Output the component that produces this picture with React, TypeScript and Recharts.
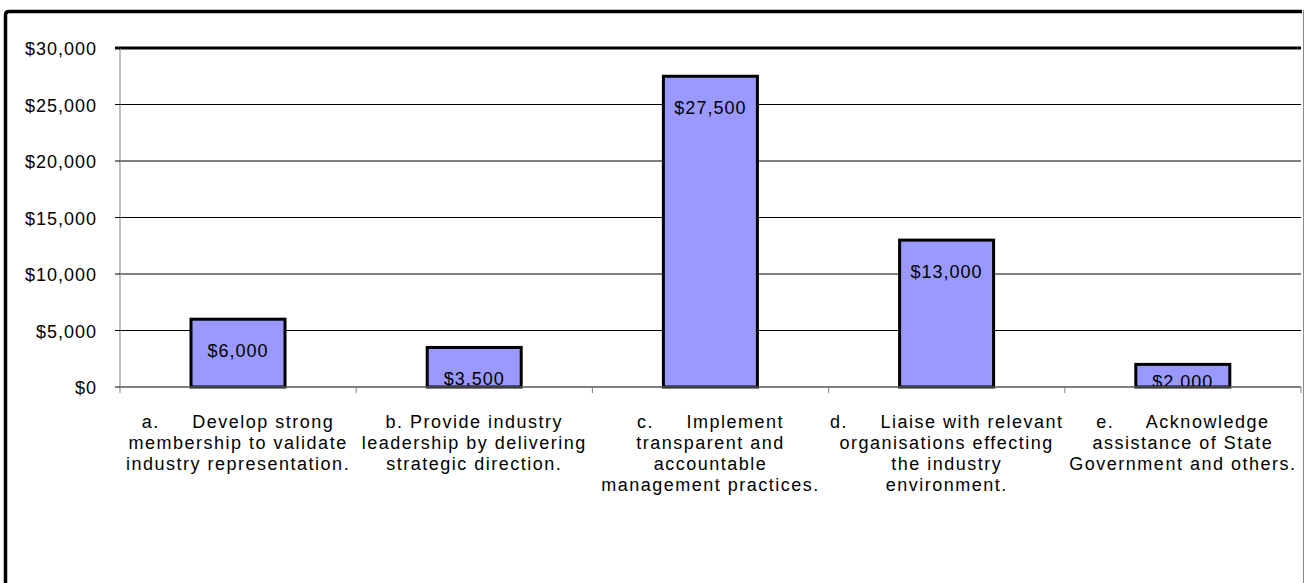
import { Bar, BarChart, CartesianGrid, ReferenceLine, XAxis, YAxis } from 'recharts';

const categories = ['a', 'b', 'c', 'd', 'e'];
const categoryLines = [
    ['a.     Develop strong', 'membership to validate', 'industry representation.'],
    ['b. Provide industry', 'leadership by delivering', 'strategic direction.'],
    ['c.     Implement', 'transparent and', 'accountable', 'management practices.'],
    ['d.     Liaise with relevant', 'organisations effecting', 'the industry', 'environment.'],
    ['e.     Acknowledge', 'assistance of State', 'Government and others.'],
];
const amounts = [6000, 3500, 27500, 13000, 2000];
const yTicks = [0, 5000, 10000, 15000, 20000, 25000, 30000];

const data = categories.map((c, i) => ({ category: c, value: amounts[i] }));

const FONT = '"Liberation Sans", Arial, sans-serif';
const money = (v: number) => `$${v.toLocaleString('en-US')}`;

const PLOT_LEFT = 120;
const PLOT_RIGHT = 1301;
const BAND = (PLOT_RIGHT - PLOT_LEFT) / categories.length;
const Y_MAX = 30000;

function CategoryTick(props: any) {
    const { x, y, payload, index } = props;
    const lines = categoryLines[index] ?? [];
    const top = y - 8;
    return (
        <g>
            <line x1={x - BAND / 2} x2={x - BAND / 2} y1={top} y2={top + 6} stroke="#808080" />
            {index === categories.length - 1 && (
                <line x1={x + BAND / 2} x2={x + BAND / 2} y1={top} y2={top + 6} stroke="#808080" />
            )}
            <text
                x={x}
                y={top + 41}
                textAnchor="middle"
                fontFamily={FONT}
                fontSize={18}
                letterSpacing={1.5}
                fill="#000"
                style={{ whiteSpace: 'pre' }}
                data-cat={payload.value}
            >
                {lines.map((l, i) => (
                    <tspan key={i} x={x} y={top + 41 + i * 21}>
                        {l}
                    </tspan>
                ))}
            </text>
        </g>
    );
}

function ValueTick(props: any) {
    const { x, y, payload } = props;
    const isTop = payload.value === Y_MAX;
    return (
        <g>
            <line
                x1={PLOT_LEFT - 5}
                x2={PLOT_LEFT}
                y1={y}
                y2={y}
                stroke="#000"
                strokeWidth={isTop ? 3 : 1}
            />
            <text
                x={x}
                y={y + 7}
                textAnchor="end"
                fontFamily={FONT}
                fontSize={18}
                letterSpacing={1}
                fill="#000"
            >
                {money(payload.value)}
            </text>
        </g>
    );
}

function BarShape(props: any) {
    const { x, y, width, height, index, payload } = props;
    const id = `bar-clip-${index}`;
    const baseline = Math.min(y + 38, y + height + 1);
    return (
        <g>
            <defs>
                <clipPath id={id}>
                    <rect x={x} y={y} width={width} height={height} />
                </clipPath>
            </defs>
            <rect x={x} y={y} width={width} height={height} fill="#9999FF" />
            <text
                x={x + width / 2}
                y={baseline}
                textAnchor="middle"
                fontFamily={FONT}
                fontSize={18}
                letterSpacing={1}
                fill="#000"
                clipPath={`url(#${id})`}
            >
                {money(payload.value)}
            </text>
            <rect
                x={x}
                y={y}
                width={width}
                height={height}
                fill="none"
                stroke="#000"
                strokeWidth={3}
            />
        </g>
    );
}

export default function App() {
    return (
        <div
            style={{
                position: 'fixed',
                left: 0,
                top: 0,
                width: 1304,
                height: 583,
                overflow: 'hidden',
                background: '#fff',
            }}
        >
            <div style={{ position: 'absolute', left: 0, top: 0 }}>
                <BarChart
                    width={1304}
                    height={583}
                    data={data}
                    margin={{ top: 48, right: 3, bottom: 0, left: 0 }}
                >
                    <CartesianGrid vertical={false} stroke="#000" />
                    <XAxis
                        dataKey="category"
                        height={196}
                        interval={0}
                        axisLine={{ stroke: '#808080' }}
                        tickLine={false}
                        tick={<CategoryTick />}
                    />
                    <YAxis
                        type="number"
                        domain={[0, Y_MAX]}
                        ticks={yTicks}
                        width={120}
                        axisLine={{ stroke: '#808080' }}
                        tickLine={false}
                        tickSize={5}
                        tickMargin={18}
                        tick={<ValueTick />}
                    />
                    <ReferenceLine y={Y_MAX} stroke="#000" strokeWidth={3} />
                    <Bar
                        dataKey="value"
                        barSize={94}
                        shape={<BarShape />}
                        isAnimationActive={false}
                    />
                </BarChart>
            </div>
            <svg
                width={1304}
                height={583}
                style={{ position: 'absolute', left: 0, top: 0, pointerEvents: 'none' }}
            >
                <path d="M5.5 600 L5.5 15 Q5.5 11.5 9 11.5 L1302 11.5" fill="none" stroke="#000" strokeWidth={3.5} />
                <line x1={1303.5} x2={1303.5} y1={10} y2={583} stroke="#888" strokeWidth={1} />
            </svg>
        </div>
    );
}
